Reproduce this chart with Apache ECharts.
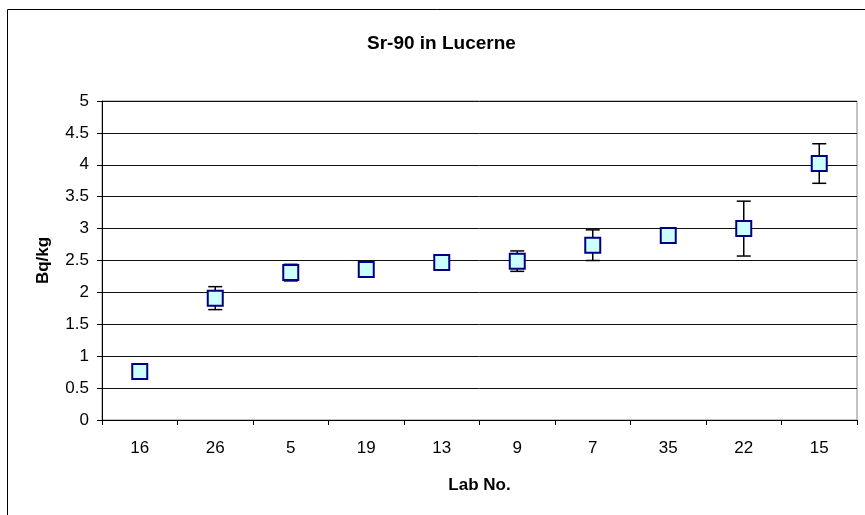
<!DOCTYPE html>
<html>
<head>
<meta charset="utf-8">
<script src="https://cdn.jsdelivr.net/npm/echarts@6/dist/echarts.min.js"></script>
<style>html,body{margin:0;padding:0;background:#fff;}#c{width:865px;height:515px;}</style>
</head>
<body>
<div id="c"></div>
<script>
const labs = ['16', '26', '5', '19', '13', '9', '7', '35', '22', '15'];
const values = [0.76, 1.91, 2.31, 2.36, 2.47, 2.49, 2.74, 2.89, 3.00, 4.02];
const errors = [0.08, 0.18, 0.13, 0.05, 0.05, 0.16, 0.24, 0.05, 0.43, 0.31];
const yTicks = [0, 0.5, 1, 1.5, 2, 2.5, 3, 3.5, 4, 4.5, 5];

const chart = echarts.init(document.getElementById('c'), null, {renderer: 'canvas'});
const errData = values.map((v, i) => [i, v - errors[i], v + errors[i]]);
const font = 'Liberation Sans, Arial, sans-serif';

chart.setOption({
  animation: false,
  backgroundColor: '#fff',
  title: {
    text: 'Sr-90 in Lucerne',
    left: 362, top: 29,
    textStyle: {fontFamily: font, fontSize: 19, fontWeight: 'bold', color: '#000'}
  },
  graphic: [{
    type: 'rect', shape: {x: 7.5, y: 9.5, width: 880, height: 600},
    style: {fill: 'none', stroke: '#000', lineWidth: 1}, silent: true
  }],
  grid: {left: 102, top: 101, right: 8, bottom: 95, show: true, borderColor: '#888', borderWidth: 1, backgroundColor: 'transparent'},
  xAxis: {
    type: 'category', data: labs, boundaryGap: true,
    name: 'Lab No.', nameLocation: 'middle', nameGap: 57,
    nameTextStyle: {fontFamily: font, fontSize: 17, fontWeight: 'bold', color: '#000'},
    axisLine: {lineStyle: {color: '#000', width: 1}},
    axisTick: {show: true, alignWithLabel: false, length: 5, lineStyle: {color: '#000'}},
    axisLabel: {fontFamily: font, fontSize: 17, color: '#000', margin: 20},
    splitLine: {show: false}
  },
  yAxis: {
    type: 'value', min: 0, max: 5, interval: 0.5,
    name: 'Bq/kg', nameLocation: 'middle', nameGap: 50, nameRotate: 90,
    nameTextStyle: {fontFamily: font, fontSize: 17, fontWeight: 'bold', color: '#000'},
    axisLine: {show: true, lineStyle: {color: '#000', width: 1}},
    axisTick: {show: true, length: 5, lineStyle: {color: '#000'}},
    axisLabel: {fontFamily: font, fontSize: 17, color: '#000', margin: 13,
      formatter: v => yTicks.includes(v) ? String(v) : ''},
    splitLine: {show: true, lineStyle: {color: '#111', width: 1}}
  },
  series: [{
    type: 'custom',
    z: 2,
    renderItem: function (params, api) {
      const x = api.value(0);
      const lo = api.coord([x, api.value(1)]);
      const hi = api.coord([x, api.value(2)]);
      const hw = 7;
      const st = {stroke: '#000', lineWidth: 1.5};
      return {
        type: 'group',
        children: [
          {type: 'line', shape: {x1: lo[0], y1: lo[1], x2: hi[0], y2: hi[1]}, style: st},
          {type: 'line', shape: {x1: lo[0] - hw, y1: lo[1], x2: lo[0] + hw, y2: lo[1]}, style: st},
          {type: 'line', shape: {x1: hi[0] - hw, y1: hi[1], x2: hi[0] + hw, y2: hi[1]}, style: st}
        ]
      };
    },
    encode: {x: 0, y: [1, 2]},
    data: errData
  }, {
    type: 'scatter',
    z: 3,
    data: values,
    symbol: 'rect',
    symbolSize: 15,
    itemStyle: {color: '#CCFFFF', borderColor: '#000080', borderWidth: 2, opacity: 1}
  }]
});
</script>
</body>
</html>
